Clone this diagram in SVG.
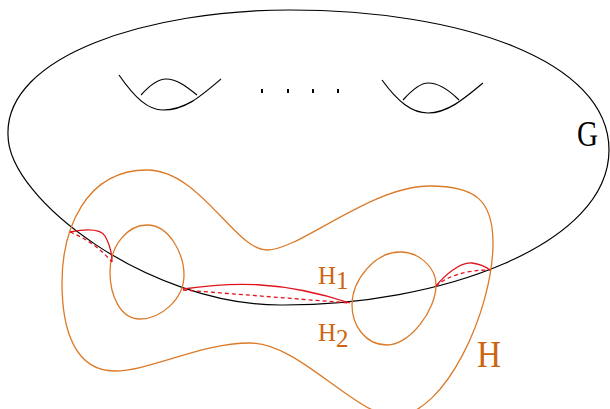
<svg xmlns="http://www.w3.org/2000/svg" width="610" height="409" viewBox="0 0 610 409">
<style>
.blk{fill:none;stroke:#000;stroke-width:1.2}
.org{fill:none;stroke:#dc7a28;stroke-width:1.3}
.red{fill:none;stroke:#e0141c;stroke-width:1.3}
.dash{fill:none;stroke:#e0141c;stroke-width:1.3;stroke-dasharray:4,3}
.lbl{font-family:"Liberation Serif","DejaVu Serif",serif;fill:#cc6511}
</style>
<rect width="610" height="409" fill="#fff"/>
<g id="G">
<path class="blk" d="M8,135 C5,55 150,10 290,10 C460,10 609,60 609,150 C609,245 440,306 280,305 C150,305 8,200 8,135 Z"/>
<path class="blk" d="M119,75 C135,98 148,110 163,110 C185,110 200,97 221,79"/>
<path class="blk" d="M141,95 C150,85 158,79 166,79 C177,79 187,87 197,95"/>
<path class="blk" d="M382,80 C398,102 412,113 428,113 C448,113 465,98 483,83"/>
<path class="blk" d="M403,100 C412,90 420,83 428,83 C440,83 450,91 459,100"/>
<g stroke="#000" stroke-width="2">
<line x1="262" y1="89" x2="262" y2="93"/>
<line x1="288" y1="89" x2="288" y2="93"/>
<line x1="313" y1="89" x2="313" y2="93"/>
<line x1="338" y1="89" x2="338" y2="93"/>
</g>
<text x="577" y="146" font-family="Liberation Serif, DejaVu Serif, serif" font-size="36" textLength="21" lengthAdjust="spacingAndGlyphs" fill="#000">G</text>
</g>
<g id="H">
<path class="org" d="M62,283 C62,230 85,170 147,170 C200,170 235,250 267,250 C300,250 370,186 430,186 C475,186 493,200 493,243 C493,310 445,416 395,416 C355,416 300,343 250,343 C200,343 150,371 115,371 C75,371 62,330 62,283 Z"/>
<path class="org" d="M147,225 C170,225 184,255 184,275 C184,300 160,319 140,319 C120,319 110,295 110,272 C110,245 128,225 147,225 Z"/>
<path class="org" d="M400,252 C420,252 436,268 436,285 C436,310 410,345 387,345 C365,345 352,325 352,305 C352,280 375,252 400,252 Z"/>
<text class="lbl" x="477" y="367" font-size="38" textLength="24" lengthAdjust="spacingAndGlyphs">H</text>
</g>
<g id="connectors">
<path class="red" d="M70,232 C85,229 100,228 105,236 C110,245 112,255 112,262"/>
<path class="dash" d="M70,232 Q95,242 112,262"/>
<path class="red" d="M183,289 C230,282 280,280 350,303"/>
<path class="dash" d="M183,290 L350,303"/>
<path class="red" d="M436,286 C445,275 460,262 472,263 C480,264 486,267 490,270"/>
<path class="dash" d="M436,286 Q455,270 490,270"/>
</g>
<g id="labels">
<text class="lbl" x="318" y="284" font-size="25">H<tspan dy="5">1</tspan></text>
<text class="lbl" x="318" y="341" font-size="25">H<tspan dy="6">2</tspan></text>
</g>
</svg>
